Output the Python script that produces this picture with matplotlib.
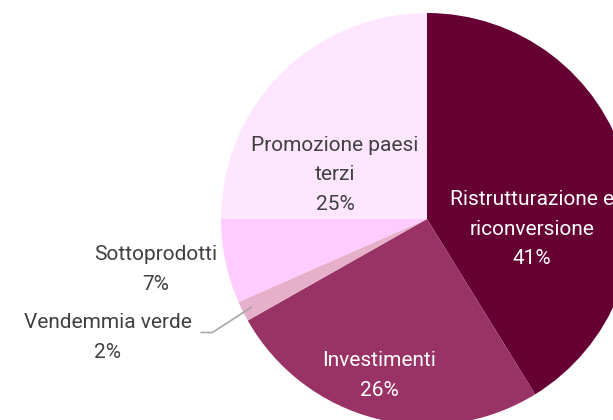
import matplotlib
matplotlib.use("Agg")
import matplotlib.pyplot as plt
import numpy as np

# Shares of the wine-sector support programme (percent)
categories = ["Ristrutturazione e\nriconversione", "Investimenti", "Vendemmia verde",
              "Sottoprodotti", "Promozione paesi\nterzi"]
values = [41.2, 25.6, 1.6, 6.6, 25.0]
colors = ["#660033", "#993366", "#e6b0cb", "#ffccff", "#ffe6ff"]
text_colors = ["white", "white", "#404040", "#404040", "#404040"]

# label anchors, as offsets from the pie centre in units of the radius
label_offsets = [(0.51, -0.05), (-0.233, -0.76), (-1.551, -0.575),
                 (-1.316, -0.245), (-0.447, 0.214)]

plt.rcParams["font.family"] = ["Roboto", "DejaVu Sans"]

W, H = 613, 420
fig = plt.figure(figsize=(W / 100, H / 100), dpi=100)
ax = fig.add_axes([0, 0, 1, 1])

cx, cy, r = 427, H - 219, 206
wedges, _ = ax.pie(values, colors=colors, startangle=90, counterclock=False,
                   center=(cx, cy), radius=r, frame=True,
                   wedgeprops=dict(linewidth=0))
ax.set_xlim(0, W)
ax.set_ylim(0, H)
ax.set_aspect("equal")
ax.axis("off")

total = sum(values)
for cat, v, tc, (ox, oy) in zip(categories, values, text_colors, label_offsets):
    pct = round(v / total * 100)
    ax.text(cx + ox * r, cy + oy * r, f"{cat}\n{pct}%", ha="center", va="center",
            color=tc, fontsize=15, linespacing=1.7, multialignment="center")

# leader line for the small slice
w = wedges[2]
mid = np.deg2rad((w.theta1 + w.theta2) / 2)
px, py = cx + 0.95 * r * np.cos(mid), cy + 0.95 * r * np.sin(mid)
lx, ly = label_offsets[2]
ax.plot([cx + lx * r + 93, cx + lx * r + 105, px], [H - 332.5, H - 332.5, py],
        color="#a6a6a6", linewidth=1.2, solid_capstyle="butt")

fig.savefig("out.png", dpi=100)
